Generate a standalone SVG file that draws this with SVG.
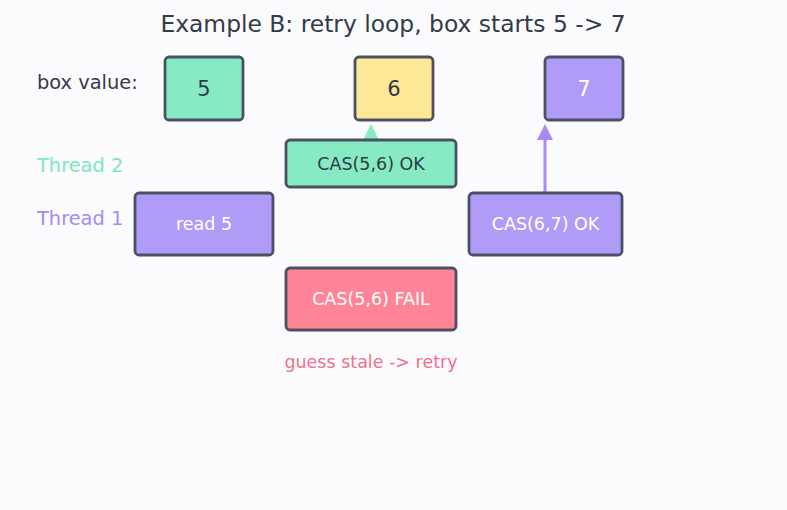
<svg xmlns="http://www.w3.org/2000/svg" width="787" height="510" viewBox="0 0 787 510">
<style>
text{font-family:"DejaVu Sans","Noto Sans",sans-serif}
.box{stroke:#4b5064;stroke-width:2.8}
.g{fill:#86ebc2}
.y{fill:#fde897}
.p{fill:#b09bf7}
.r{fill:#ff8497}
.dark{fill:#333a48}
.lt{fill:#ffffff}
.lbl{font-size:17.5px}
</style>
<rect width="787" height="510" fill="#fbfbfe"/>
<text x="393" y="32" text-anchor="middle" font-size="23.4" class="dark">Example B: retry loop, box starts 5 -&gt; 7</text>
<text x="37" y="89" font-size="19.4" class="dark">box value:</text>
<text x="37" y="172" font-size="19.4" fill="#7de6bd">Thread 2</text>
<text x="37" y="225" font-size="19.4" fill="#a48cf0">Thread 1</text>
<g id="connectors">
<polygon points="371,124 379,140 363,140" fill="#86ebc2"/>
<line x1="545" y1="192" x2="545" y2="138" stroke="#a88cf2" stroke-width="3"/>
<polygon points="545,124 553,140 537,140" fill="#a88cf2"/>
</g>
<g id="box5"><rect class="box g" x="165" y="57" width="78" height="63" rx="4"/><text x="204" y="96" text-anchor="middle" font-size="21" class="dark">5</text></g>
<g id="box6"><rect class="box y" x="355" y="57" width="78" height="63" rx="4"/><text x="394" y="96" text-anchor="middle" font-size="21" class="dark">6</text></g>
<g id="box7"><rect class="box p" x="545" y="57" width="78" height="63" rx="4"/><text x="584" y="96" text-anchor="middle" font-size="21" class="lt">7</text></g>
<g id="cas56ok"><rect class="box g" x="286" y="140" width="170" height="47" rx="4"/><text x="371" y="170" text-anchor="middle" class="lbl dark">CAS(5,6) OK</text></g>
<g id="read5"><rect class="box p" x="135" y="193" width="138" height="62" rx="4"/><text x="204" y="230" text-anchor="middle" class="lbl lt">read 5</text></g>
<g id="cas67ok"><rect class="box p" x="469" y="193" width="153" height="62" rx="4"/><text x="545.5" y="230" text-anchor="middle" class="lbl lt">CAS(6,7) OK</text></g>
<g id="cas56fail"><rect class="box r" x="286" y="268" width="170" height="62" rx="4"/><text x="371" y="305" text-anchor="middle" class="lbl lt">CAS(5,6) FAIL</text></g>
<text x="371" y="368" text-anchor="middle" font-size="17.5" fill="#f0708a">guess stale -&gt; retry</text>
</svg>
